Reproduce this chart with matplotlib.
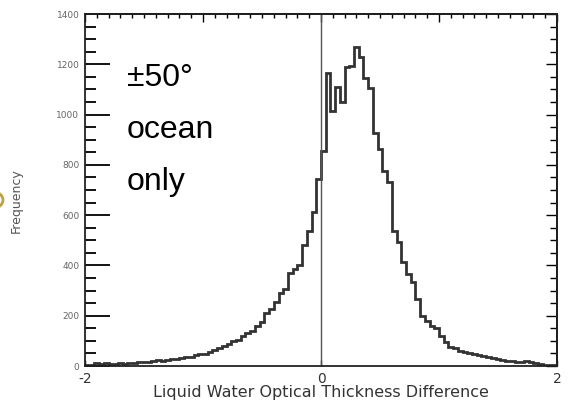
import numpy as np
import matplotlib
matplotlib.use('Agg')
from matplotlib import pyplot as plt
from matplotlib.patches import Circle
from matplotlib.ticker import MultipleLocator

# Histogram of liquid water optical thickness difference, 0.04 wide bins from -2 to 2
bin_lo = -2.0
bin_hi = 2.0
counts = [2, 4, 10, 6, 12, 8, 6, 10, 8, 12,
          10, 14, 14, 16, 18, 22, 20, 24, 26, 28,
          30, 34, 36, 44, 46, 48, 56, 62, 70, 78,
          86, 100, 105, 118, 130, 138, 160, 175, 210, 225,
          255, 290, 305, 370, 385, 400, 480, 535, 612, 744,
          856, 1165, 1015, 1110, 1050, 1190, 1195, 1270, 1230, 1145,
          1105, 925, 865, 775, 730, 535, 495, 415, 365, 335,
          265, 200, 178, 158, 150, 118, 94, 76, 70, 60,
          54, 50, 48, 42, 38, 36, 32, 28, 24, 20,
          18, 16, 14, 20, 14, 10, 8, 5, 4, 3]

x_ticklabels = ['-2', '0', '2']
x_label = 'Liquid Water Optical Thickness Difference'
y_label = 'Frequency'
note_lines = ['\u00b150\u00b0', 'ocean', 'only']

edges = np.linspace(bin_lo, bin_hi, len(counts) + 1)

fig = plt.figure(figsize=(5.7, 4.03), dpi=100)
ax = fig.add_axes([85/570, 1 - 366/403, (557 - 85)/570, (366 - 14)/403])

ax.stairs(counts, edges, color='#333333', lw=2, baseline=None)
ax.axvline(0, color='#555555', lw=1)

ax.set_xlim(bin_lo, bin_hi)
ax.set_ylim(0, 1400)

for s in ax.spines.values():
    s.set_linewidth(1.3)
    s.set_color('#222222')

# left / bottom ticks
ax.set_xticks([-2, 0, 2])
ax.set_xticklabels(x_ticklabels, fontsize=10, color='#333333')
ax.tick_params(axis='x', direction='in', length=4, width=1, pad=4)
ax.yaxis.set_major_locator(MultipleLocator(200))
ax.yaxis.set_minor_locator(MultipleLocator(50))
ax.tick_params(axis='y', which='major', direction='in', length=18, width=1.3,
               labelsize=6.5, labelcolor='#666666', pad=4)
ax.tick_params(axis='y', which='minor', direction='in', length=8, width=1.3)

# right / top axes with their own tick lengths
right = ax.secondary_yaxis('right')
right.yaxis.set_major_locator(MultipleLocator(200))
right.yaxis.set_minor_locator(MultipleLocator(50))
right.tick_params(which='major', direction='in', length=8, width=1, labelright=False)
right.tick_params(which='minor', direction='in', length=5, width=1)
right.spines['right'].set_linewidth(1.3)

top = ax.secondary_xaxis('top')
top.xaxis.set_major_locator(MultipleLocator(1))
top.xaxis.set_minor_locator(MultipleLocator(0.1))
top.tick_params(which='major', direction='in', length=6, width=1, labeltop=False)
top.tick_params(which='minor', direction='in', length=3, width=1)
top.spines['top'].set_linewidth(1.3)

fig.text(321/570, 1 - 393/403, x_label, fontsize=11.5, color='#333333',
         ha='center', va='center')
fig.text(16/570, 1 - 201/403, y_label, rotation=90, fontsize=9, color='#555555',
         ha='center', va='center')

# annotation text in the upper left
for i, line in enumerate(note_lines):
    fig.text(127/570, 1 - (86 + 52*i)/403, line, fontsize=23,
             family='Liberation Sans', color='black', ha='left', va='baseline')

# bit of a gold circle at the left edge (slide artefact)
fig.patches.append(Circle((-10/570, 1 - 200/403), 13/570, transform=fig.transFigure,
                          fill=False, ec='#c0a040', lw=2))

fig.savefig('out.png', dpi=100)
